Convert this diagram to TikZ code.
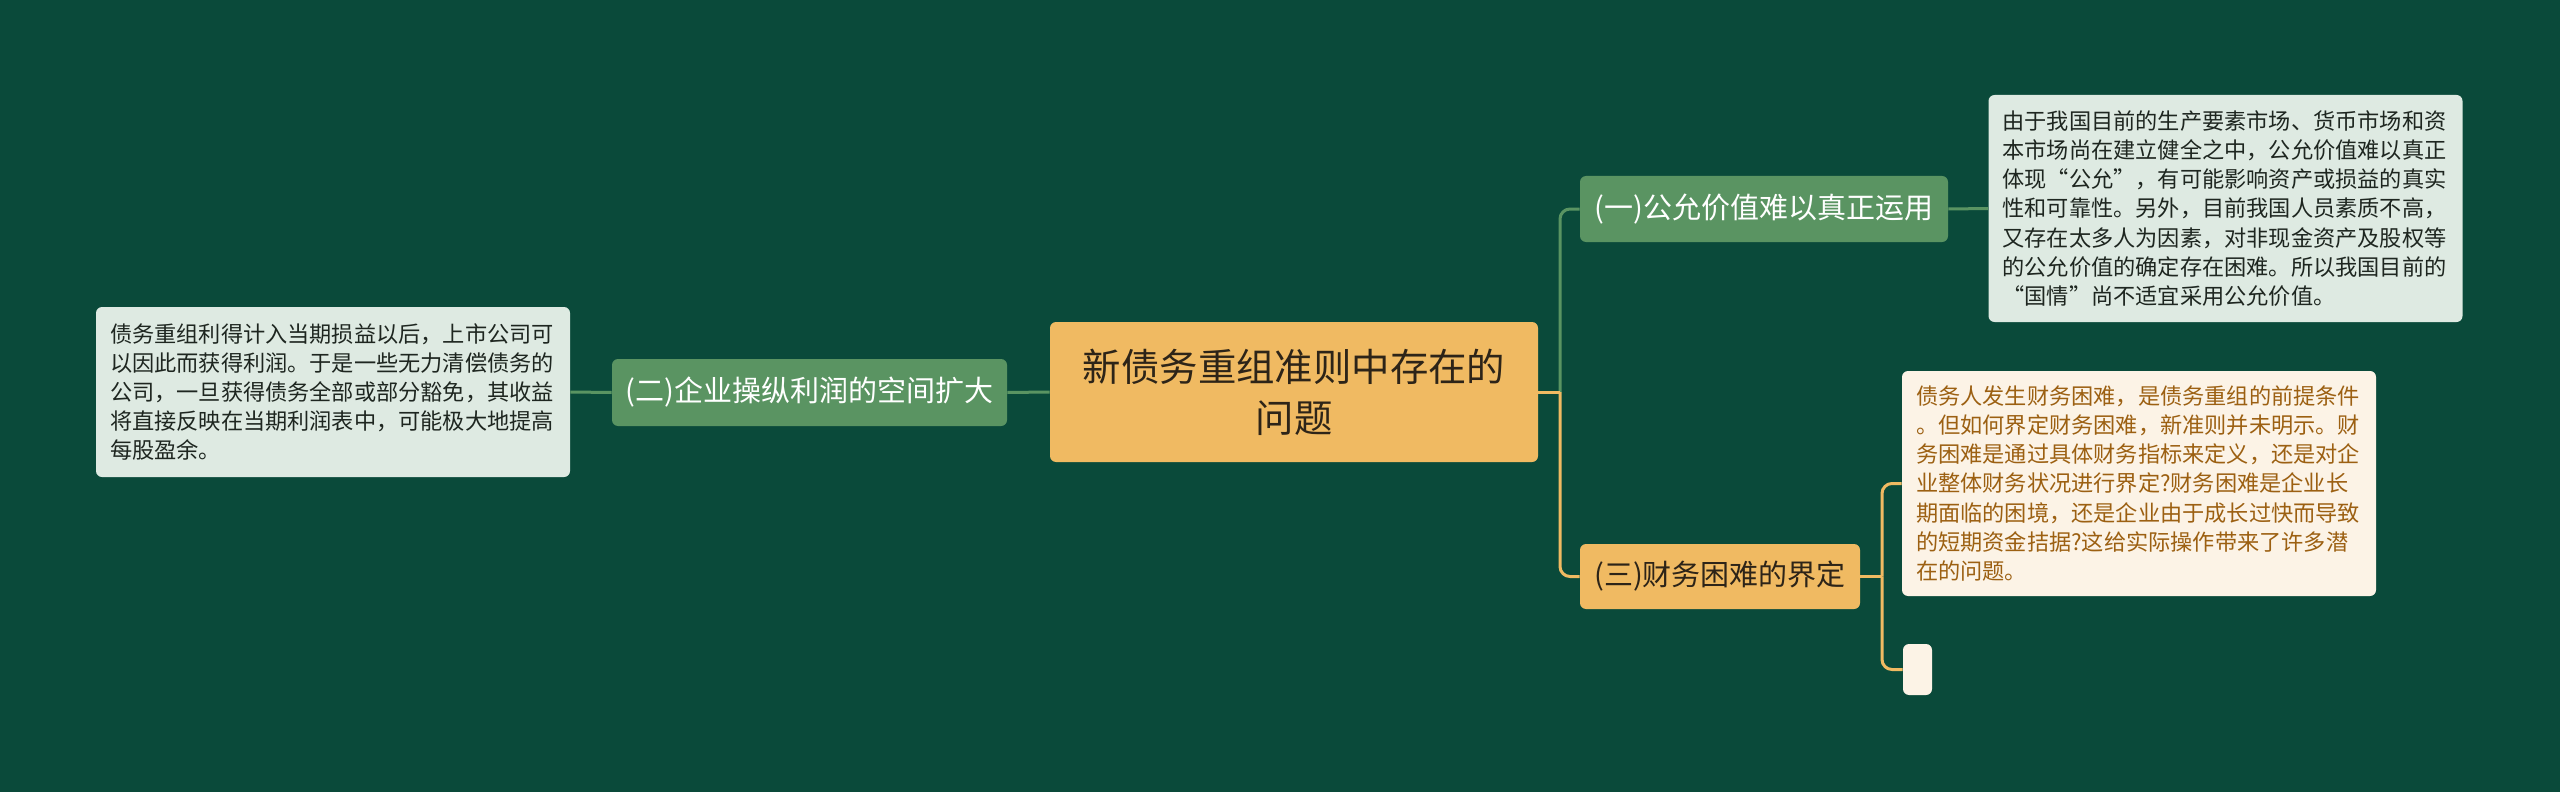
\documentclass[tikz,border=0pt]{standalone}
\usepackage{fontspec}
\setmainfont{Noto Sans CJK SC}
\usetikzlibrary{calc}
\definecolor{bg}{RGB}{10,74,58}
\definecolor{gnode}{RGB}{90,148,98}
\definecolor{lbox}{RGB}{222,234,226}
\definecolor{onode}{RGB}{240,186,98}
\definecolor{cream}{RGB}{252,243,230}
\definecolor{brown}{RGB}{156,96,18}
\definecolor{dtext}{RGB}{30,38,32}
\definecolor{ctext}{RGB}{45,36,24}
\tikzset{
  base/.style={rounded corners=3pt, inner sep=0pt, align=center},
  rootbox/.style={base, fill=onode, text=ctext, minimum width=244pt, minimum height=70pt,
    font=\fontsize{19.2pt}{25.5pt}\selectfont},
  gbranch/.style={base, fill=gnode, text=white, font=\fontsize{14.5pt}{18pt}\selectfont},
  obranch/.style={base, fill=onode, text=ctext, font=\fontsize{14.5pt}{18pt}\selectfont},
  leafbox/.style={rounded corners=3pt, inner xsep=7pt, inner ysep=0pt, text width=223pt, align=left,
    font=\fontsize{11.1pt}{14.6pt}\selectfont},
  gleaf/.style={leafbox, fill=lbox, text=dtext},
  oleaf/.style={leafbox, fill=cream, text=brown},
  gline/.style={draw=gnode, line width=1.5pt},
  oline/.style={draw=onode, line width=1.5pt},
}
\begin{document}
\begin{tikzpicture}[x=0.5pt, y=-0.5pt]
\path[fill=bg] (0,0) rectangle (2560,792);
\useasboundingbox (0,0) rectangle (2560,792);

\node[rootbox] (c) at (1294,392) {新债务重组准则中存在的\\问题};
\node[gbranch, minimum width=197.5pt, minimum height=33.5pt] (n2) at (809.5,392.5) {(二)企业操纵利润的空间扩大};
\node[gbranch, minimum width=184pt, minimum height=33pt] (n1) at (1764,209) {(一)公允价值难以真正运用};
\node[obranch, minimum width=140pt, minimum height=32.5pt] (n3) at (1720,576.5) {(三)财务困难的界定};

\node[gleaf, minimum height=85pt] (lb) at (333,392) {债务重组利得计入当期损益以后，上市公司可\\以因此而获得利润。于是一些无力清偿债务的\\公司，一旦获得债务全部或部分豁免，其收益\\将直接反映在当期利润表中，可能极大地提高\\每股盈余。};
\node[gleaf, minimum height=113.5pt] (rt) at (2225.5,208.5) {由于我国目前的生产要素市场、货币市场和资\\本市场尚在建立健全之中，公允价值难以真正\\体现“公允”，有可能影响资产或损益的真实\\性和可靠性。另外，目前我国人员素质不高，\\又存在太多人为因素，对非现金资产及股权等\\的公允价值的确定存在困难。所以我国目前的\\“国情”尚不适宜采用公允价值。};
\node[oleaf, minimum height=112.5pt] (rm) at (2139,483.5) {债务人发生财务困难，是债务重组的前提条件\\。但如何界定财务困难，新准则并未明示。财\\务困难是通过具体财务指标来定义，还是对企\\业整体财务状况进行界定?财务困难是企业长\\期面临的困境，还是企业由于成长过快而导致\\的短期资金拮据?这给实际操作带来了许多潜\\在的问题。};
\node[base, fill=cream, minimum width=14.5pt, minimum height=25.5pt] (e) at (1917.5,669.5) {};

\coordinate (j1) at (1560,392);
\coordinate (j2) at (1882,576.5);

\draw[gline] (c.west) -- (n2.east);
\draw[gline] (n2.west) -- (lb.east);
\draw[gline, rounded corners=5pt] (j1) |- (n1.west);
\draw[oline, rounded corners=5pt] (j1) |- (n3.west);
\draw[oline] (c.east) -- (j1);
\draw[gline] (n1.east) -- (rt.west);
\draw[oline] (n3.east) -- (j2);
\draw[oline, rounded corners=5pt] (j2) |- (rm.west);
\draw[oline, rounded corners=5pt] (j2) |- (e.west);
\end{tikzpicture}
\end{document}
